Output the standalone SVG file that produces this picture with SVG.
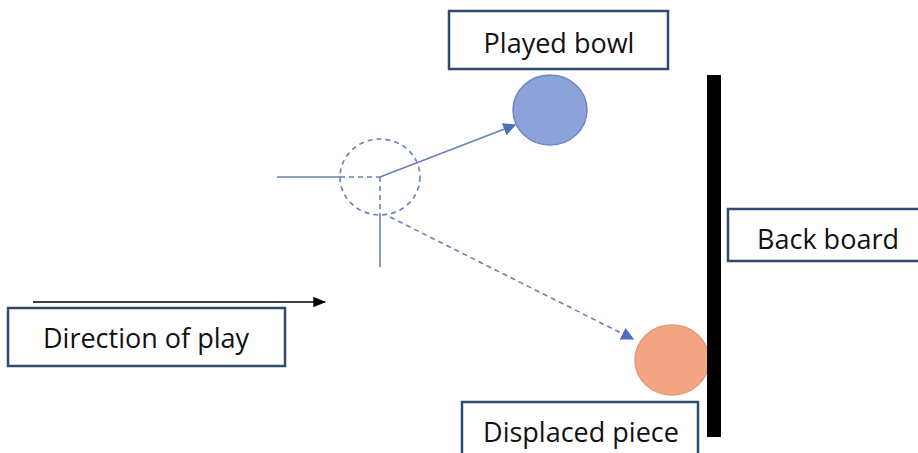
<svg xmlns="http://www.w3.org/2000/svg" width="918" height="453" viewBox="0 0 918 453">
  <style>
    .box { fill: #ffffff; stroke: #2f4b6e; stroke-width: 2.5; }
    .lbl { font-family: "Open Sans", "Liberation Sans", sans-serif; font-size: 27px; fill: #111111; text-anchor: middle; }
    .ln { stroke: #6a82b4; stroke-width: 1.6; fill: none; }
    .dash { stroke: #6a82b4; stroke-width: 1.6; fill: none; stroke-dasharray: 5 4; }
  </style>
  <defs>
    <marker id="ab" viewBox="0 0 10 10" refX="9" refY="5" markerWidth="13" markerHeight="13" markerUnits="userSpaceOnUse" orient="auto">
      <path d="M0,0 L10,5 L0,10 Z" fill="#4a6fbe"/>
    </marker>
    <marker id="ak" viewBox="0 0 10 10" refX="9" refY="5" markerWidth="13" markerHeight="13" markerUnits="userSpaceOnUse" orient="auto">
      <path d="M0,1 L10,5 L0,9 Z" fill="#000000"/>
    </marker>
  </defs>
  <rect width="918" height="453" fill="#ffffff"/>

  <g id="connectors">
    <line class="ln" x1="277" y1="177" x2="340" y2="177"/>
    <line class="dash" x1="340" y1="177" x2="380" y2="177"/>
    <line class="dash" x1="380" y1="177" x2="380" y2="215"/>
    <line class="ln" x1="380" y1="215" x2="380" y2="267"/>
    <line class="ln" x1="380" y1="177" x2="515" y2="125" marker-end="url(#ab)"/>
    <line class="dash" x1="390" y1="217" x2="633" y2="339" marker-end="url(#ab)"/>
    <line x1="33" y1="302" x2="325" y2="302" stroke="#000000" stroke-width="1.3" marker-end="url(#ak)"/>
  </g>

  <g id="ghost">
    <ellipse cx="380" cy="177" rx="40" ry="38" class="dash"/>
  </g>

  <g id="played-bowl-ball">
    <ellipse cx="550" cy="110" rx="37" ry="35" fill="#8ea2da" stroke="#6f86c4" stroke-width="1.5"/>
  </g>

  <g id="displaced-piece-ball">
    <ellipse cx="672" cy="360" rx="37" ry="35" fill="#f4a583" stroke="#e8967a" stroke-width="1.5"/>
  </g>

  <g id="back-board-bar">
    <rect x="707" y="75" width="14" height="362" fill="#000000"/>
  </g>

  <g id="played-bowl">
    <rect class="box" x="449" y="11" width="219" height="58"/>
    <text class="lbl" x="559" y="53">Played bowl</text>
  </g>

  <g id="back-board">
    <rect class="box" x="728" y="209" width="200" height="52"/>
    <text class="lbl" x="828" y="249">Back board</text>
  </g>

  <g id="direction-of-play">
    <rect class="box" x="8" y="308" width="277" height="58"/>
    <text class="lbl" x="146" y="348">Direction of play</text>
  </g>

  <g id="displaced-piece">
    <rect class="box" x="462" y="402" width="236" height="60"/>
    <text class="lbl" x="581" y="442">Displaced piece</text>
  </g>
</svg>
